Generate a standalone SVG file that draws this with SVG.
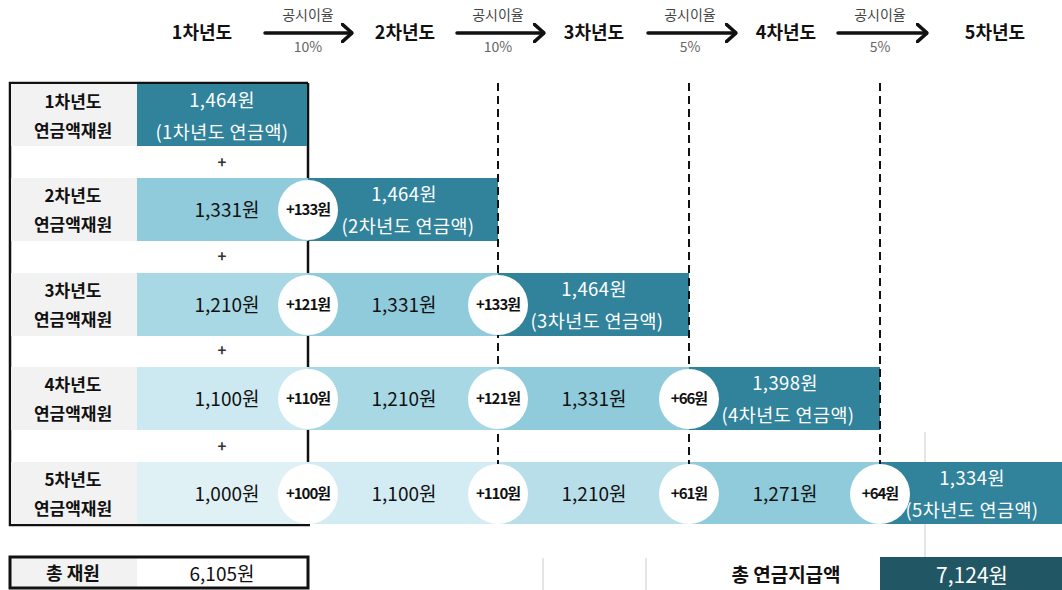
<svg xmlns="http://www.w3.org/2000/svg" width="1062" height="590" viewBox="0 0 1062 590">
<defs>
<style>
text{font-family:"Noto Sans CJK KR","Noto Sans",sans-serif;text-anchor:middle}
.yr{font-size:18px;font-weight:bold;fill:#111}
.rate{font-size:14px;fill:#444}
.pct{font-size:14px;fill:#666}
.lbl{font-size:17px;font-weight:bold;fill:#111}
.val{font-size:19px;fill:#111}
.wv{font-size:18.5px;fill:#fff;letter-spacing:0.4px}
.inc{font-size:15px;font-weight:bold;fill:#111;letter-spacing:-1px}
.plus{font-size:15px;font-weight:bold;fill:#333}
.gray{fill:#f2f2f2}
.dark{fill:#31829b}
.c1{fill:#8fcbdb}
.c2{fill:#a9d8e5}
.c3{fill:#cce8f0}
.c4{fill:#e0f1f6}
.c5{fill:#d3ebf2}
.c6{fill:#b8dfe9}
.circ{fill:#fff}
.dash{stroke:#111;stroke-width:2;stroke-dasharray:8 5;fill:none}
.arr{stroke:#111;stroke-width:3.5;fill:none;stroke-linecap:round;stroke-linejoin:round}
</style>
<marker id="chev" viewBox="0 0 12 20" refX="11" refY="10" markerWidth="12" markerHeight="20" markerUnits="userSpaceOnUse" orient="auto">
<path d="M1,1 L11,10 L1,19" fill="none" stroke="#111" stroke-width="3.5" stroke-linecap="round" stroke-linejoin="round"/>
</marker>
</defs>
<rect width="1062" height="590" fill="#fff"/>

<g id="header">
<text class="yr" x="202" y="39">1차년도</text>
<text class="yr" x="405" y="39">2차년도</text>
<text class="yr" x="594" y="39">3차년도</text>
<text class="yr" x="786" y="39">4차년도</text>
<text class="yr" x="995" y="39">5차년도</text>
<text class="rate" x="308" y="20">공시이율</text>
<text class="pct" x="308" y="52">10%</text>
<text class="rate" x="498" y="20">공시이율</text>
<text class="pct" x="498" y="52">10%</text>
<text class="rate" x="690" y="20">공시이율</text>
<text class="pct" x="690" y="52">5%</text>
<text class="rate" x="880" y="20">공시이율</text>
<text class="pct" x="880" y="52">5%</text>
</g>

<g id="connectors">
<line class="arr" x1="265" y1="33" x2="352" y2="33" marker-end="url(#chev)"/>
<line class="arr" x1="457" y1="33" x2="544" y2="33" marker-end="url(#chev)"/>
<line class="arr" x1="648" y1="33" x2="736" y2="33" marker-end="url(#chev)"/>
<line class="arr" x1="838" y1="33" x2="927" y2="33" marker-end="url(#chev)"/>
</g>

<g id="frame">
<line x1="925" y1="432" x2="925" y2="557" stroke="#ddd" stroke-width="1.5"/>
<line x1="543" y1="558" x2="543" y2="590" stroke="#ddd" stroke-width="1.5"/>
<line x1="646" y1="558" x2="646" y2="590" stroke="#ddd" stroke-width="1.5"/>
<path d="M308,83 L10,83 L10,525 L310,525" fill="none" stroke="#111" stroke-width="2.5"/>
<line x1="308" y1="83" x2="308" y2="462" stroke="#111" stroke-width="2.5"/>
</g>

<g id="row1">
<rect class="gray" x="11" y="84" width="126" height="62"/>
<rect class="dark" x="137" y="84" width="170" height="62"/>
<text class="lbl" x="73" y="108">1차년도</text>
<text class="lbl" x="73" y="137">연금액재원</text>
<text class="wv" x="222" y="107">1,464원</text>
<text class="wv" x="222" y="139">(1차년도 연금액)</text>
</g>
<text class="plus" x="222" y="168">+</text>

<g id="row2">
<rect class="gray" x="11" y="178" width="126" height="63"/>
<rect class="c1" x="137" y="178" width="171" height="63"/>
<rect class="dark" x="308" y="178" width="190" height="63"/>
<text class="lbl" x="73" y="202">2차년도</text>
<text class="lbl" x="73" y="231">연금액재원</text>
<text class="val" x="227" y="217">1,331원</text>
<text class="wv" x="404" y="201">1,464원</text>
<text class="wv" x="408" y="233">(2차년도 연금액)</text>
</g>
<text class="plus" x="222" y="262">+</text>

<g id="row3">
<rect class="gray" x="11" y="273" width="126" height="63"/>
<rect class="c2" x="137" y="273" width="171" height="63"/>
<rect class="c1" x="308" y="273" width="190" height="63"/>
<rect class="dark" x="498" y="273" width="191" height="63"/>
<text class="lbl" x="73" y="297">3차년도</text>
<text class="lbl" x="73" y="326">연금액재원</text>
<text class="val" x="227" y="312">1,210원</text>
<text class="val" x="404" y="312">1,331원</text>
<text class="wv" x="594" y="296">1,464원</text>
<text class="wv" x="597" y="328">(3차년도 연금액)</text>
</g>
<text class="plus" x="222" y="356">+</text>

<g id="row4">
<rect class="gray" x="11" y="367" width="126" height="63"/>
<rect class="c3" x="137" y="367" width="171" height="63"/>
<rect class="c2" x="308" y="367" width="190" height="63"/>
<rect class="c1" x="498" y="367" width="191" height="63"/>
<rect class="dark" x="689" y="367" width="191" height="63"/>
<text class="lbl" x="73" y="391">4차년도</text>
<text class="lbl" x="73" y="420">연금액재원</text>
<text class="val" x="227" y="406">1,100원</text>
<text class="val" x="404" y="406">1,210원</text>
<text class="val" x="594" y="406">1,331원</text>
<text class="wv" x="785" y="390">1,398원</text>
<text class="wv" x="788" y="422">(4차년도 연금액)</text>
</g>
<text class="plus" x="222" y="452">+</text>

<g id="row5">
<rect class="gray" x="11" y="462" width="126" height="62"/>
<rect class="c4" x="137" y="462" width="171" height="62"/>
<rect class="c5" x="308" y="462" width="190" height="62"/>
<rect class="c6" x="498" y="462" width="191" height="62"/>
<rect class="c1" x="689" y="462" width="191" height="62"/>
<rect class="dark" x="880" y="462" width="182" height="62"/>
<text class="lbl" x="73" y="486">5차년도</text>
<text class="lbl" x="73" y="515">연금액재원</text>
<text class="val" x="227" y="501">1,000원</text>
<text class="val" x="404" y="501">1,100원</text>
<text class="val" x="594" y="501">1,210원</text>
<text class="val" x="785" y="501">1,271원</text>
<text class="wv" x="972" y="485">1,334원</text>
<text class="wv" x="972" y="517">(5차년도 연금액)</text>
</g>

<g id="dashes">
<line class="dash" x1="498" y1="83" x2="498" y2="525"/>
<line class="dash" x1="689" y1="83" x2="689" y2="525"/>
<line class="dash" x1="880" y1="83" x2="880" y2="525"/>
</g>

<g id="increments">
<circle class="circ" cx="308" cy="210" r="30"/><text class="inc" x="308" y="215">+133원</text>
<circle class="circ" cx="308" cy="305" r="30"/><text class="inc" x="308" y="310">+121원</text>
<circle class="circ" cx="498" cy="305" r="30"/><text class="inc" x="498" y="310">+133원</text>
<circle class="circ" cx="308" cy="399" r="30"/><text class="inc" x="308" y="404">+110원</text>
<circle class="circ" cx="498" cy="399" r="30"/><text class="inc" x="498" y="404">+121원</text>
<circle class="circ" cx="689" cy="399" r="30"/><text class="inc" x="689" y="404">+66원</text>
<circle class="circ" cx="308" cy="494" r="30"/><text class="inc" x="308" y="499">+100원</text>
<circle class="circ" cx="498" cy="494" r="30"/><text class="inc" x="498" y="499">+110원</text>
<circle class="circ" cx="689" cy="494" r="30"/><text class="inc" x="689" y="499">+61원</text>
<circle class="circ" cx="880" cy="494" r="30"/><text class="inc" x="880" y="499">+64원</text>
</g>

<g id="total-source">
<rect class="gray" x="11" y="558" width="126" height="29"/>
<rect x="10" y="557" width="298" height="31" fill="none" stroke="#111" stroke-width="3"/>
<text class="lbl" x="73" y="580" style="font-size:18px">총 재원</text>
<text class="val" x="222" y="581" style="font-size:19px">6,105원</text>
</g>

<g id="total-paid">
<text class="yr" x="786" y="582" style="font-size:19px">총 연금지급액</text>
<rect x="880" y="557" width="182" height="33" fill="#215764"/>
<text x="972" y="583" style="font-size:21px;fill:#fff">7,124원</text>
</g>
</svg>
